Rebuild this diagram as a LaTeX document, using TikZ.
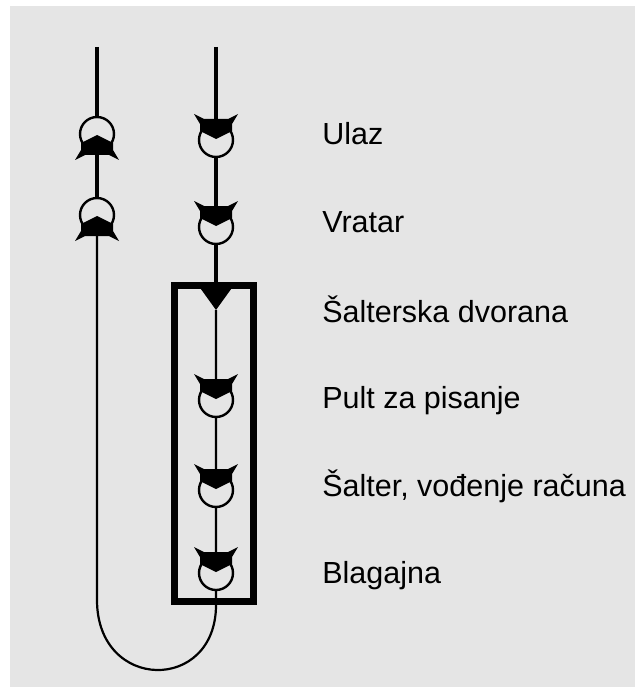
\documentclass[tikz,border=0pt]{standalone}
\usepackage{fontspec}
\setmainfont{Liberation Sans}
\usetikzlibrary{arrows.meta, calc}
\definecolor{bggray}{RGB}{229,229,229}
\tikzset{chevron/.pic={
        \fill[black] (-22,-26) -- (-12,-21) -- (12,-21) -- (22,-26) -- (16,-16) -- (16,-9) -- (0,-1) -- (-16,-9) -- (-16,-16) -- cycle;
    }}

\begin{document}
\begin{tikzpicture}[
            x=1pt,
            y=-1pt,
            semithick
        ]
        \tikzstyle{station}=[circle, draw=black, line width=2.4pt, minimum size=34pt, inner sep=0pt]
        \tikzstyle{flow}=[draw=black, line width=3.2pt]
        \tikzstyle{inner flow}=[draw=black, line width=2.2pt]
        \tikzstyle{room}=[draw=black, line width=7pt, minimum width=79pt, minimum height=316pt, inner sep=0pt]
        \tikzstyle{caption}=[anchor=base west, inner sep=0pt, font=\fontsize{30.5}{36}\selectfont, text=black]

        \useasboundingbox (0,0) rectangle (635,687);
        \fill[bggray] (10,6) rectangle (635,687);

        \coordinate (Ltop) at (97,47);
        \coordinate (Rtop) at (216,47);
        \node[station] (L1) at (97,134) {};
        \node[station] (L2) at (97,215) {};
        \node[station] (R1) at (216,140) {};
        \node[station] (R2) at (216,227) {};
        \node[room] (hall) at (214,443.5) {};
        \coordinate (tip) at (216,310);
        \node[station] (R3) at (216,400) {};
        \node[station] (R4) at (216,490) {};
        \node[station] (R5) at (216,573) {};
        \coordinate (bend) at (97,600);

        \node[caption] (T1) at (322,145) {Ulaz};
        \node[caption] (T2) at (322,232) {Vratar};
        \node[caption] (T3) at (322,322) {Šalterska dvorana};
        \node[caption] (T4) at (322,408) {Pult za pisanje};
        \node[caption] (T5) at (322,496) {Šalter, vođenje računa};
        \node[caption] (T6) at (322,583) {Blagajna};

        \path[flow] (Ltop) -- (L1) (L1) -- (L2)
        (Rtop) -- (R1) (R1) -- (R2) (R2) -- (R2 |- hall.north);
        \path[inner flow] (tip) -- (R3) (R3) -- (R4) (R4) -- (R5)
        (R5) -- (R5 |- hall.south) .. controls +(0,88) and +(0,92) .. (bend) -- (L2);
        \fill[black] (tip) -- ++(-18,-25) -- ++(36,0) -- cycle;

        \pic at (R1) {chevron};
        \pic at (R2) {chevron};
        \pic at (R3) {chevron};
        \pic at (R4) {chevron};
        \pic at (R5) {chevron};
        \pic[rotate=180] at (L1) {chevron};
        \pic[rotate=180] at (L2) {chevron};
    \end{tikzpicture}
\end{document}
